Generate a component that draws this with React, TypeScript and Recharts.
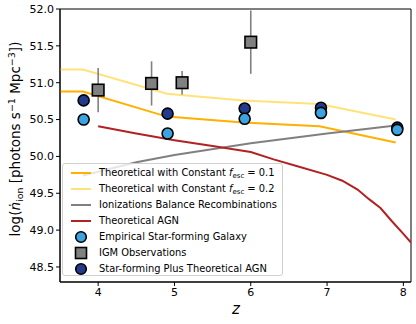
import {
    ComposedChart,
    Line,
    Scatter,
    ErrorBar,
    XAxis,
    YAxis,
    ReferenceArea,
} from 'recharts';

const fescZ = [3.5, 3.8, 4.9, 5.9, 6.9, 7.9];
const fesc01 = [50.88, 50.88, 50.54, 50.46, 50.41, 50.19];
const fesc02 = [51.18, 51.18, 50.85, 50.76, 50.71, 50.5];

const balanceZ = [3.8, 4.5, 5.0, 6.0, 7.0, 7.9];
const balanceVals = [49.74, 49.92, 50.02, 50.18, 50.31, 50.42];

const agnZ = [4.0, 4.5, 5.0, 5.5, 6.0, 6.3, 6.6, 7.0, 7.2, 7.4, 7.55, 7.7, 7.85, 8.0, 8.1];
const agnVals = [50.41, 50.31, 50.22, 50.14, 50.06, 49.96, 49.87, 49.75, 49.67, 49.55, 49.42, 49.3, 49.12, 48.95, 48.83];

const galaxyZ = [3.81, 4.91, 5.92, 6.92, 7.92];
const empirical = [50.5, 50.31, 50.51, 50.59, 50.36];
const plusAgn = [50.76, 50.58, 50.65, 50.66, 50.39];

const igmZ = [4.0, 4.7, 5.1, 6.0];
const igmVals = [50.9, 50.99, 51.0, 51.55];
const igmErr = [0.3, 0.3, 0.16, 0.43];

const xTicks = [4, 5, 6, 7, 8];
const yTicks = [48.5, 49.0, 49.5, 50.0, 50.5, 51.0, 51.5, 52.0];

const pairs = (zs: number[], vs: number[]) => zs.map((z, i) => ({ z, v: vs[i] }));

const igmData = igmZ.map((z, i) => ({ z, v: igmVals[i], err: igmErr[i] }));

const FONT = 'DejaVu Sans';
const ORANGE = '#ffb000';
const YELLOW = '#ffe37a';
const GRAY = '#808080';
const RED = '#b22222';
const LIGHTBLUE = '#3ba3e0';
const DARKBLUE = '#233b8c';

const circle = (fill: string) => (p: any) => (
    <circle cx={p.cx} cy={p.cy} r={5.5} fill={fill} stroke="#000" strokeWidth={1.6} />
);

const square = (p: any) => (
    <rect x={p.cx - 5.8} y={p.cy - 5.8} width={11.6} height={11.6} fill={GRAY} stroke="#000" strokeWidth={1.6} />
);

const legendItems = [
    { kind: 'line', color: ORANGE, label: 'f01' },
    { kind: 'line', color: YELLOW, label: 'f02' },
    { kind: 'line', color: GRAY, label: 'Ionizations Balance Recombinations' },
    { kind: 'line', color: RED, label: 'Theoretical AGN' },
    { kind: 'circle', color: LIGHTBLUE, label: 'Empirical Star-forming Galaxy' },
    { kind: 'square', color: GRAY, label: 'IGM Observations' },
    { kind: 'circle', color: DARKBLUE, label: 'Star-forming Plus Theoretical AGN' },
];

const LegendLabel = ({ label }: { label: string }) => {
    if (label === 'f01' || label === 'f02') {
        return (
            <span>
                Theoretical with Constant <i>f</i>
                <span style={{ fontSize: 7, position: 'relative', top: 2 }}>esc</span> = {label === 'f01' ? '0.1' : '0.2'}
            </span>
        );
    }
    return <span>{label}</span>;
};

const ChartLegend = () => (
    <div
        style={{
            position: 'absolute',
            left: 62,
            top: 163,
            width: 221,
            height: 113,
            boxSizing: 'border-box',
            background: 'rgba(255,255,255,0.8)',
            border: '1px solid #d0d0d0',
            borderRadius: 3,
            fontFamily: FONT,
            fontSize: 9.9,
            paddingTop: 1,
            whiteSpace: 'nowrap',
        }}
    >
        {legendItems.map((it) => (
            <div key={it.label} style={{ display: 'flex', alignItems: 'center', height: 16, lineHeight: '16px' }}>
                <svg width={36} height={16} style={{ flex: 'none' }}>
                    {it.kind === 'line' && <line x1={8} x2={28} y1={8} y2={8} stroke={it.color} strokeWidth={2} />}
                    {it.kind === 'circle' && <circle cx={18} cy={8} r={5.3} fill={it.color} stroke="#000" strokeWidth={1.6} />}
                    {it.kind === 'square' && (
                        <rect x={12.5} y={2.5} width={11} height={11} fill={it.color} stroke="#000" strokeWidth={1.6} />
                    )}
                </svg>
                <LegendLabel label={it.label} />
            </div>
        ))}
    </div>
);

export default function App() {
    return (
        <div style={{ position: 'absolute', left: 0, top: 0, width: 416, height: 324, background: '#fff' }}>
            <ComposedChart width={416} height={324} margin={{ top: 9, right: 5, bottom: 0, left: 0 }}>
                <XAxis
                    dataKey="z"
                    type="number"
                    domain={[3.5, 8.1]}
                    ticks={xTicks}
                    height={42}
                    tickSize={4}
                    stroke="#000"
                    tick={{ fill: '#000', fontSize: 11, fontFamily: FONT }}
                    allowDataOverflow
                />
                <YAxis
                    type="number"
                    domain={[48.296, 52.0]}
                    ticks={yTicks}
                    width={60}
                    tickSize={4}
                    stroke="#000"
                    tick={{ fill: '#000', fontSize: 11, fontFamily: FONT }}
                    tickFormatter={(v: number) => v.toFixed(1)}
                    allowDataOverflow
                />
                <ReferenceArea x1={3.5} x2={8.1} y1={48.296} y2={52.0} fill="none" stroke="#000" strokeWidth={1} />
                <Line data={pairs(fescZ, fesc01)} dataKey="v" stroke={ORANGE} strokeWidth={2} dot={false} isAnimationActive={false} />
                <Line data={pairs(fescZ, fesc02)} dataKey="v" stroke={YELLOW} strokeWidth={2} dot={false} isAnimationActive={false} />
                <Line data={pairs(balanceZ, balanceVals)} dataKey="v" stroke={GRAY} strokeWidth={2} dot={false} isAnimationActive={false} />
                <Line data={pairs(agnZ, agnVals)} dataKey="v" stroke={RED} strokeWidth={2} dot={false} isAnimationActive={false} />
                <Scatter data={igmData} dataKey="v" shape={square} isAnimationActive={false}>
                    <ErrorBar dataKey="err" direction="y" width={0} stroke={GRAY} strokeWidth={1.6} />
                </Scatter>
                <Scatter data={pairs(galaxyZ, plusAgn)} dataKey="v" shape={circle(DARKBLUE)} isAnimationActive={false} />
                <Scatter data={pairs(galaxyZ, empirical)} dataKey="v" shape={circle(LIGHTBLUE)} isAnimationActive={false} />
                <text x={236} y={314} textAnchor="middle" fontFamily={FONT} fontSize={15} fontStyle="italic">
                    z
                </text>
                <text
                    transform="translate(20,139) rotate(-90)"
                    textAnchor="middle"
                    fontFamily={FONT}
                    fontSize={13.5}
                >
                    log(<tspan fontStyle="italic">ṅ</tspan>
                    <tspan fontSize={9.5} dy={3}>ion</tspan>
                    <tspan dy={-3}> [photons s</tspan>
                    <tspan fontSize={9.5} dy={-5}>−1</tspan>
                    <tspan dy={5}> Mpc</tspan>
                    <tspan fontSize={9.5} dy={-5}>−3</tspan>
                    <tspan dy={5}>])</tspan>
                </text>
            </ComposedChart>
            <ChartLegend />
        </div>
    );
}
